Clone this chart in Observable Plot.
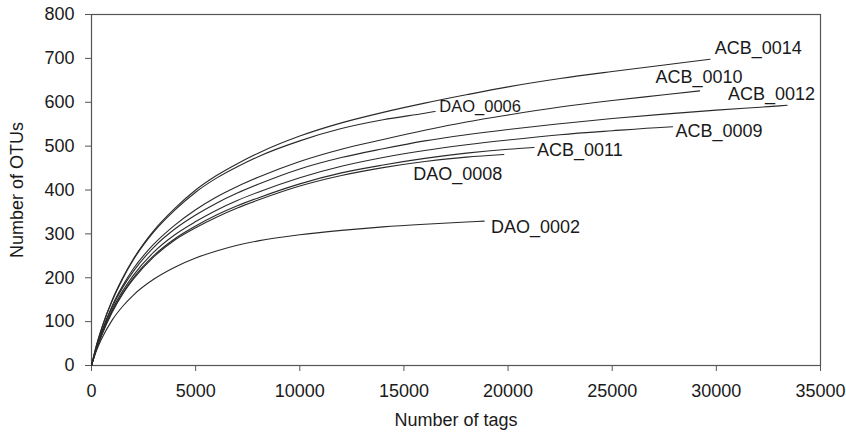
<!DOCTYPE html>
<html>
<head>
<meta charset="utf-8">
<script src="https://cdn.jsdelivr.net/npm/d3@7"></script>
<script src="https://cdn.jsdelivr.net/npm/@observablehq/plot@0.6"></script>
<style>
  html, body { margin: 0; padding: 0; background: #ffffff; }
  #chart { width: 846px; height: 433px; }
</style>
</head>
<body>
<div id="chart"></div>
<script>
// Shared sampling grid (number of tags)
const tags = [0, 250, 500, 1000, 1500, 2000, 3000, 4000, 5000, 6000, 7000, 8000, 10000, 12000, 14000, 16000, 18000, 20000, 22500, 25000, 27500, 30000, 32500];

// Sample names and the number of tags at which each curve ends
const samples = ["ACB_0014", "DAO_0006", "ACB_0010", "ACB_0012", "ACB_0009", "ACB_0011", "DAO_0008", "DAO_0002"];
const endTags = [29700, 16500, 29200, 33400, 27900, 21250, 19800, 18850];

// OTU counts read on the grid; the last value of each is at its end tag
const otusACB0014 = [0, 48, 87, 150, 200, 242, 308, 358, 400, 433, 460, 484, 523, 553, 577, 598, 617, 635, 654, 670, 685, 698];
const otusDAO0006 = [0, 48, 86, 148, 198, 240, 305, 354, 395, 427, 453, 476, 512, 540, 560, 575, 579];
const otusACB0010 = [0, 43, 79, 137, 182, 220, 277, 320, 355, 384, 408, 429, 465, 493, 515, 536, 555, 571, 589, 604, 617, 626];
const otusACB0012 = [0, 42, 77, 134, 178, 214, 270, 311, 343, 370, 393, 413, 448, 474, 494, 512, 526, 538, 551, 563, 573, 582, 590, 593];
const otusACB0009 = [0, 40, 73, 128, 170, 205, 259, 298, 328, 354, 376, 395, 428, 454, 474, 490, 503, 514, 526, 535, 543, 544];
const otusACB0011 = [0, 39, 71, 124, 165, 199, 251, 289, 318, 343, 364, 382, 414, 439, 457, 472, 484, 493, 497];
const otusDAO0008 = [0, 39, 70, 122, 163, 196, 248, 286, 314, 338, 359, 377, 409, 433, 451, 465, 475, 481];
const otusDAO0002 = [0, 35, 62, 104, 135, 160, 197, 224, 245, 261, 274, 284, 298, 308, 316, 322, 327, 329];

// Curve label anchors (data units)
const labelText = ["ACB_0014", "ACB_0010", "ACB_0012", "DAO_0006", "ACB_0009", "ACB_0011", "DAO_0008", "DAO_0002"];
const labelTags = [29920, 27080, 30560, 16700, 28040, 21390, 15450, 19180];
const labelOtus = [722, 658, 618, 589, 533, 490, 435, 314];

// Axis ticks
const xTicks = [0, 5000, 10000, 15000, 20000, 25000, 30000, 35000];
const yTicks = [0, 100, 200, 300, 400, 500, 600, 700, 800];

const seriesValues = [otusACB0014, otusDAO0006, otusACB0010, otusACB0012, otusACB0009, otusACB0011, otusDAO0008, otusDAO0002];

const curves = [];
samples.forEach((s, k) => {
  const vals = seriesValues[k];
  vals.forEach((v, i) => {
    const t = i === vals.length - 1 ? endTags[k] : tags[i];
    curves.push({sample: s, tags: t, otus: v});
  });
});

const labels = labelText.map((t, i) => ({text: t, tags: labelTags[i], otus: labelOtus[i]}));

const chart = Plot.plot({
  width: 846,
  height: 433,
  marginLeft: 91,
  marginRight: 26,
  marginTop: 14,
  marginBottom: 68,
  style: {
    fontFamily: "'Liberation Sans', Arial, Helvetica, sans-serif",
    fontSize: "18px",
    color: "#1a1a1a",
    background: "#ffffff"
  },
  x: {domain: [0, 35000]},
  y: {domain: [0, 800]},
  marks: [
    Plot.frame({stroke: "#555", strokeWidth: 1.2}),
    Plot.axisX({
      ticks: xTicks,
      tickFormat: d => String(d),
      tickSize: 6,
      tickPadding: 13,
      stroke: "#555",
      label: "Number of tags",
      labelAnchor: "center",
      labelArrow: "none",
      labelOffset: 60
    }),
    Plot.axisY({
      ticks: yTicks,
      tickFormat: d => String(d),
      tickSize: 6,
      tickPadding: 11,
      stroke: "#555",
      label: "Number of OTUs",
      labelAnchor: "center",
      labelArrow: "none",
      labelOffset: 81
    }),
    Plot.line(curves, {
      x: "tags",
      y: "otus",
      z: "sample",
      curve: "monotone-x",
      stroke: "#2a2a2a",
      strokeWidth: 1.1
    }),
    Plot.text(labels, {
      x: "tags",
      y: "otus",
      text: "text",
      textAnchor: "start",
      lineAnchor: "middle",
      fontSize: d => d.text === "DAO_0006" ? 16.5 : 18,
      fill: "#1a1a1a"
    })
  ]
});

document.getElementById("chart").appendChild(chart);
</script>
</body>
</html>
